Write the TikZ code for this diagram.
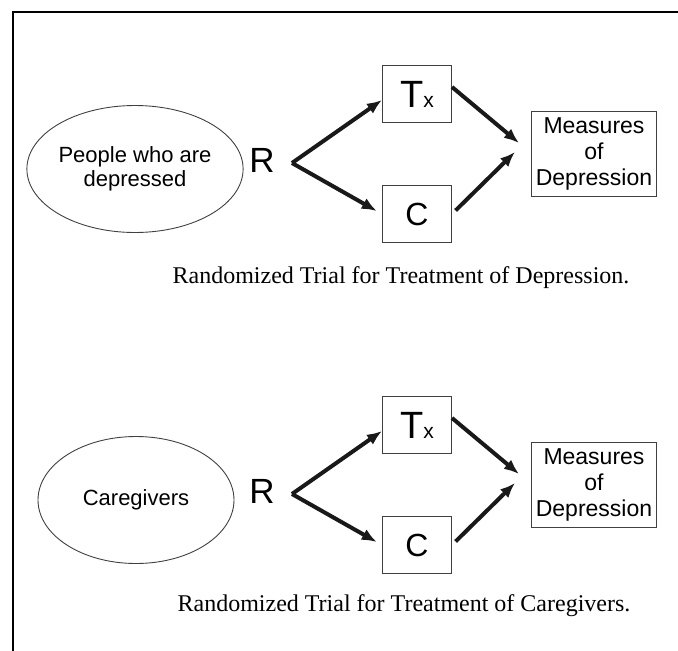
\documentclass[tikz,border=0pt]{standalone}
\usepackage{fontspec}
\setmainfont{Liberation Serif}
\setsansfont{Liberation Sans}
\usetikzlibrary{arrows.meta,shapes.geometric}
\tikzset{
  >={Latex[length=15pt,width=12pt]},
  pop/.style  ={draw=black!75, ellipse, line width=0.9pt, minimum width=196pt, minimum height=127pt, inner sep=0pt, align=center, font=\sffamily\fontsize{22}{24}\selectfont},
  rnd/.style  ={inner sep=0pt, font=\sffamily\fontsize{35}{35}\selectfont},
  arm/.style  ={draw=black!75, line width=1pt, minimum width=69pt, minimum height=57pt, inner sep=0pt, font=\sffamily\fontsize{32}{32}\selectfont},
  meas/.style ={draw=black!75, line width=1pt, minimum width=125pt, minimum height=85pt, inner sep=1pt, align=center, font=\sffamily\fontsize{23}{26}\selectfont},
  trialcap/.style={inner sep=0pt, font=\fontsize{24}{26}\selectfont},
  flow/.style ={->, line width=4pt, draw=black!90}
}
\newcommand{\txlabel}{{\fontsize{38}{38}\selectfont T}{\fontsize{21}{21}\selectfont x}}

\begin{document}
\begin{tikzpicture}[x=1pt, y=-1pt]
\useasboundingbox (0,0) rectangle (678,651);
% frame
\draw[line width=2pt] (13,651) -- (13,12) -- (678,12);

% depressed people
\node[pop] (pop1) at (135,169) {People who are\\depressed};
\node[rnd] (rand1) at (262,160) {R};
\coordinate (fork1) at (292,163);
\node[arm] (tx1) at (417,94) {\txlabel};
\node[arm] (ctl1) at (417,214) {C};
\node[meas] (meas1) at (594,154) {Measures\\of\\Depression};
\draw[flow] (fork1) -- ([yshift=-6pt]tx1.west);
\draw[flow, shorten >=6pt] (fork1) -- (ctl1.west);
\draw[flow] ([yshift=7pt]tx1.east) -- ([xshift=-12pt,yshift=11pt]meas1.west);
\draw[flow, shorten <=5pt] (ctl1.east) -- ([xshift=-16pt,yshift=2pt]meas1.west);
\node[trialcap] (cap1) at (401,278) {Randomized Trial for Treatment of Depression.};

% caregivers
\node[pop] (pop2) at (136,500) {Caregivers};
\node[rnd] (rand2) at (262,491) {R};
\coordinate (fork2) at (292,494);
\node[arm] (tx2) at (417,425) {\txlabel};
\node[arm] (ctl2) at (417,545) {C};
\node[meas] (meas2) at (594,485) {Measures\\of\\Depression};
\draw[flow] (fork2) -- ([yshift=-6pt]tx2.west);
\draw[flow, shorten >=6pt] (fork2) -- (ctl2.west);
\draw[flow] ([yshift=7pt]tx2.east) -- ([xshift=-12pt,yshift=11pt]meas2.west);
\draw[flow, shorten <=5pt] (ctl2.east) -- ([xshift=-16pt,yshift=2pt]meas2.west);
\node[trialcap] (cap2) at (404,606) {Randomized Trial for Treatment of Caregivers.};
\end{tikzpicture}
\end{document}
